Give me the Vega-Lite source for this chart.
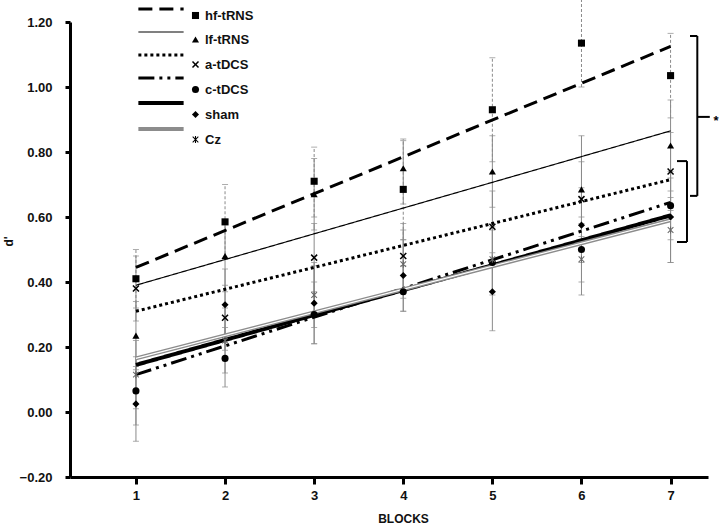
{
  "$schema": "https://vega.github.io/schema/vega-lite/v6.json",
  "width": 638,
  "height": 455,
  "autosize": {"type": "none"},
  "padding": {"left": 70, "top": 22, "right": 12, "bottom": 49},
  "background": "#ffffff",
  "config": {
    "view": {"stroke": null},
    "font": "Liberation Sans",
    "axis": {
      "grid": false,
      "domainColor": "#000",
      "domainWidth": 3,
      "tickColor": "#000",
      "tickWidth": 3,
      "labelFont": "Liberation Sans",
      "labelFontWeight": "bold",
      "labelFontSize": 13,
      "labelColor": "#111",
      "titleFont": "Liberation Sans",
      "titleFontWeight": "bold",
      "titleFontSize": 12,
      "titleColor": "#111"
    }
  },
  "datasets": {
    "pts": [
      {"group": "hf-tRNS", "block": 1, "d": 0.41, "lo": 0.32, "hi": 0.50},
      {"group": "hf-tRNS", "block": 2, "d": 0.585, "lo": 0.47, "hi": 0.70},
      {"group": "hf-tRNS", "block": 3, "d": 0.71, "lo": 0.60, "hi": 0.815},
      {"group": "hf-tRNS", "block": 4, "d": 0.685, "lo": 0.53, "hi": 0.84},
      {"group": "hf-tRNS", "block": 5, "d": 0.93, "lo": 0.77, "hi": 1.09},
      {"group": "hf-tRNS", "block": 6, "d": 1.135, "lo": 1.0, "hi": 1.27},
      {"group": "hf-tRNS", "block": 7, "d": 1.035, "lo": 0.905, "hi": 1.165},
      {"group": "lf-tRNS", "block": 1, "d": 0.235, "lo": 0.13, "hi": 0.34},
      {"group": "lf-tRNS", "block": 2, "d": 0.48, "lo": 0.37, "hi": 0.59},
      {"group": "lf-tRNS", "block": 3, "d": 0.67, "lo": 0.56, "hi": 0.78},
      {"group": "lf-tRNS", "block": 4, "d": 0.75, "lo": 0.64, "hi": 0.835},
      {"group": "lf-tRNS", "block": 5, "d": 0.74, "lo": 0.63, "hi": 0.85},
      {"group": "lf-tRNS", "block": 6, "d": 0.685, "lo": 0.53, "hi": 0.85},
      {"group": "lf-tRNS", "block": 7, "d": 0.82, "lo": 0.68, "hi": 0.96},
      {"group": "a-tDCS", "block": 1, "d": 0.38, "lo": 0.28, "hi": 0.48},
      {"group": "a-tDCS", "block": 2, "d": 0.29, "lo": 0.19, "hi": 0.39},
      {"group": "a-tDCS", "block": 3, "d": 0.475, "lo": 0.37, "hi": 0.58},
      {"group": "a-tDCS", "block": 4, "d": 0.48, "lo": 0.38, "hi": 0.58},
      {"group": "a-tDCS", "block": 5, "d": 0.57, "lo": 0.46, "hi": 0.68},
      {"group": "a-tDCS", "block": 6, "d": 0.655, "lo": 0.54, "hi": 0.77},
      {"group": "a-tDCS", "block": 7, "d": 0.74, "lo": 0.62, "hi": 0.86},
      {"group": "c-tDCS", "block": 1, "d": 0.065, "lo": -0.04, "hi": 0.17},
      {"group": "c-tDCS", "block": 2, "d": 0.165, "lo": 0.077, "hi": 0.26},
      {"group": "c-tDCS", "block": 3, "d": 0.30, "lo": 0.21, "hi": 0.40},
      {"group": "c-tDCS", "block": 4, "d": 0.37, "lo": 0.31, "hi": 0.45},
      {"group": "c-tDCS", "block": 5, "d": 0.46, "lo": 0.36, "hi": 0.56},
      {"group": "c-tDCS", "block": 6, "d": 0.50, "lo": 0.40, "hi": 0.60},
      {"group": "c-tDCS", "block": 7, "d": 0.635, "lo": 0.53, "hi": 0.74},
      {"group": "sham", "block": 1, "d": 0.025, "lo": -0.09, "hi": 0.14},
      {"group": "sham", "block": 2, "d": 0.33, "lo": 0.22, "hi": 0.44},
      {"group": "sham", "block": 3, "d": 0.335, "lo": 0.21, "hi": 0.45},
      {"group": "sham", "block": 4, "d": 0.42, "lo": 0.31, "hi": 0.53},
      {"group": "sham", "block": 5, "d": 0.37, "lo": 0.25, "hi": 0.49},
      {"group": "sham", "block": 6, "d": 0.575, "lo": 0.46, "hi": 0.69},
      {"group": "sham", "block": 7, "d": 0.60, "lo": 0.46, "hi": 0.72},
      {"group": "Cz", "block": 1, "d": 0.115, "lo": 0.01, "hi": 0.22},
      {"group": "Cz", "block": 2, "d": 0.22, "lo": 0.12, "hi": 0.32},
      {"group": "Cz", "block": 3, "d": 0.36, "lo": 0.26, "hi": 0.46},
      {"group": "Cz", "block": 4, "d": 0.455, "lo": 0.35, "hi": 0.56},
      {"group": "Cz", "block": 5, "d": 0.47, "lo": 0.37, "hi": 0.57},
      {"group": "Cz", "block": 6, "d": 0.47, "lo": 0.36, "hi": 0.58},
      {"group": "Cz", "block": 7, "d": 0.56, "lo": 0.46, "hi": 0.66}
    ],
    "fits": [
      {"cond": "hf-tRNS", "block": 1, "d": 0.445},
      {"cond": "hf-tRNS", "block": 7, "d": 1.125},
      {"cond": "lf-tRNS", "block": 1, "d": 0.39},
      {"cond": "lf-tRNS", "block": 7, "d": 0.865},
      {"cond": "a-tDCS", "block": 1, "d": 0.31},
      {"cond": "a-tDCS", "block": 7, "d": 0.715},
      {"cond": "c-tDCS", "block": 1, "d": 0.115},
      {"cond": "c-tDCS", "block": 7, "d": 0.645},
      {"cond": "sham", "block": 1, "d": 0.145},
      {"cond": "sham", "block": 7, "d": 0.605},
      {"cond": "Cz", "block": 1, "d": 0.165},
      {"cond": "Cz", "block": 7, "d": 0.59}
    ],
    "brackets": [
      {"x": 7.218, "x2": 7.30, "y": 1.157, "y2": 1.157},
      {"x": 7.30, "x2": 7.30, "y": 1.157, "y2": 0.665},
      {"x": 7.218, "x2": 7.30, "y": 0.665, "y2": 0.665},
      {"x": 7.30, "x2": 7.44, "y": 0.908, "y2": 0.908},
      {"x": 7.072, "x2": 7.184, "y": 0.772, "y2": 0.772},
      {"x": 7.184, "x2": 7.184, "y": 0.772, "y2": 0.523},
      {"x": 7.072, "x2": 7.184, "y": 0.523, "y2": 0.523}
    ],
    "stars": [
      {"x": 7.51, "y": 0.905, "label": "*"}
    ]
  },
  "encoding": {
    "x": {
      "field": "block",
      "type": "quantitative",
      "scale": {"domain": [0.26, 7.42], "nice": false, "zero": false},
      "axis": {
        "values": [1, 2, 3, 4, 5, 6, 7],
        "format": "d",
        "tickSize": 7,
        "labelPadding": 5,
        "title": "BLOCKS",
        "titleX": 333,
        "titleY": 36,
        "titleBaseline": "top"
      }
    },
    "y": {
      "type": "quantitative",
      "scale": {"domain": [-0.2, 1.2], "nice": false, "zero": false},
      "axis": {
        "values": [-0.2, 0, 0.2, 0.4, 0.6, 0.8, 1.0, 1.2],
        "format": ".2f",
        "tickSize": 5,
        "labelPadding": 13,
        "title": "d'",
        "titleX": -55,
        "titleY": 219
      }
    }
  },
  "layer": [
    {
      "data": {"name": "pts"},
      "transform": [{"filter": "datum.group !== 'hf-tRNS'"}],
      "mark": {"type": "rule", "color": "#8a8a8a", "strokeWidth": 1},
      "encoding": {"y": {"field": "lo", "type": "quantitative"}, "y2": {"field": "hi"}}
    },
    {
      "data": {"name": "pts"},
      "transform": [{"filter": "datum.group === 'hf-tRNS'"}],
      "mark": {"type": "rule", "color": "#8a8a8a", "strokeWidth": 1, "strokeDash": [3, 2]},
      "encoding": {"y": {"field": "lo", "type": "quantitative"}, "y2": {"field": "hi"}}
    },
    {
      "data": {"name": "pts"},
      "mark": {"type": "tick", "orient": "horizontal", "color": "#8a8a8a", "size": 6, "thickness": 1},
      "encoding": {"y": {"field": "lo", "type": "quantitative"}}
    },
    {
      "data": {"name": "pts"},
      "mark": {"type": "tick", "orient": "horizontal", "color": "#8a8a8a", "size": 6, "thickness": 1},
      "encoding": {"y": {"field": "hi", "type": "quantitative"}}
    },
    {
      "data": {"name": "fits"},
      "mark": {"type": "line", "strokeCap": "butt"},
      "encoding": {
        "y": {"field": "d", "type": "quantitative"},
        "stroke": {
          "field": "cond", "type": "nominal",
          "sort": ["hf-tRNS", "lf-tRNS", "a-tDCS", "c-tDCS", "sham", "Cz"],
          "scale": {"type": "ordinal", "range": ["#000000", "#000000", "#000000", "#000000", "#000000", "#8c8c8c"]},
          "legend": null
        },
        "strokeWidth": {
          "field": "cond", "type": "nominal",
          "sort": ["hf-tRNS", "lf-tRNS", "a-tDCS", "c-tDCS", "sham", "Cz"],
          "scale": {"type": "ordinal", "range": [3, 1.2, 3, 3, 4, 4]},
          "legend": null
        },
        "strokeDash": {
          "field": "cond", "type": "nominal",
          "sort": ["hf-tRNS", "lf-tRNS", "a-tDCS", "c-tDCS", "sham", "Cz"],
          "scale": {"type": "ordinal", "range": [[14, 7], [1, 0], [3, 3], [16, 5, 3, 5, 3, 5], [1, 0], [1, 0]]},
          "legend": {"orient": "none", "legendX": 91, "legendY": -13, "title": null, "symbolType": "M-6.4,0L6.4,0", "symbolSize": 50, "symbolOpacity": 1, "symbolStrokeColor": "#000000", "symbolStrokeWidth": 3, "labelExpr": "''", "labelFontSize": 13, "rowPadding": 10, "padding": 0,
            "encode": {"symbols": {"update": {
              "strokeWidth": {"signal": "scale('strokeWidth', datum.value)"},
              "stroke": {"signal": "scale('stroke', datum.value)"}
            }}}}
        }
      }
    },
    {
      "data": {"name": "fits"},
      "transform": [{"filter": "datum.cond === 'Cz'"}],
      "mark": {"type": "line", "color": "#ffffff", "strokeWidth": 1.2},
      "encoding": {"y": {"field": "d", "type": "quantitative"}}
    },
    {
      "data": {"name": "pts"},
      "mark": {"type": "point", "filled": true, "opacity": 1, "size": 50},
      "encoding": {
        "y": {"field": "d", "type": "quantitative"},
        "color": {"condition": {"test": "datum.group === 'Cz'", "value": "#666666"}, "value": "#000000"},
        "shape": {
          "field": "group", "type": "nominal",
          "sort": ["hf-tRNS", "lf-tRNS", "a-tDCS", "c-tDCS", "sham", "Cz"],
          "scale": {"range": [
            "square",
            "triangle-up",
            "M-1,-0.7L-0.7,-1L0,-0.3L0.7,-1L1,-0.7L0.3,0L1,0.7L0.7,1L0,0.3L-0.7,1L-1,0.7L-0.3,0Z",
            "circle",
            "diamond",
            "M-0.9,-0.7L-0.7,-0.9L0,-0.2L0.7,-0.9L0.9,-0.7L0.2,0L0.9,0.7L0.7,0.9L0,0.2L-0.7,0.9L-0.9,0.7L-0.2,0ZM-0.15,-1L0.15,-1L0.15,1L-0.15,1Z"
          ]},
          "legend": {"orient": "none", "legendX": 119, "legendY": -13, "title": null, "symbolSize": 50, "symbolFillColor": "#000000", "symbolStrokeColor": "#000000", "labelFont": "Liberation Sans", "labelFontWeight": "bold", "labelFontSize": 13, "labelColor": "#111", "labelOffset": 3, "rowPadding": 10, "padding": 0}
        }
      }
    },
    {
      "data": {"name": "brackets"},
      "mark": {"type": "rule", "color": "#000", "strokeWidth": 2},
      "encoding": {
        "x": {"field": "x", "type": "quantitative"},
        "x2": {"field": "x2"},
        "y": {"field": "y", "type": "quantitative"},
        "y2": {"field": "y2"}
      }
    },
    {
      "data": {"name": "stars"},
      "mark": {"type": "text", "fontSize": 13, "fontWeight": "bold", "align": "center", "baseline": "middle", "dy": 3},
      "encoding": {
        "x": {"field": "x", "type": "quantitative"},
        "y": {"field": "y", "type": "quantitative"},
        "text": {"field": "label"}
      }
    }
  ]
}
